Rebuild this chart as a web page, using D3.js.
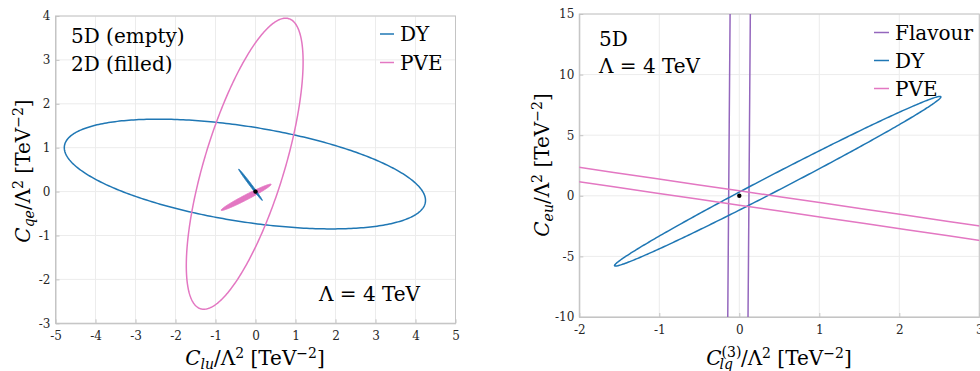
<!DOCTYPE html>
<html lang="en">
<head>
<meta charset="UTF-8">
<title>Ellipse constraints</title>
<script src="https://d3js.org/d3.v7.min.js"></script>
<style>
    body { margin: 0; background: #fff; }
    svg { display: block; }
    svg text { font-family: "DejaVu Serif", "Liberation Serif", serif; }
    .tick-label { font-size: 12px; fill: #262626; }
    .big { font-size: 20px; fill: #000; }
</style>
</head>
<body>
<div id="chart"></div>
<script>
// ---- data ----
// ellipses: centre, half extents along x and y, correlation
const leftXTicks = [-5, -4, -3, -2, -1, 0, 1, 2, 3, 4, 5];
const leftYTicks = [-3, -2, -1, 0, 1, 2, 3, 4];
const leftDY5D = { cx: -0.265, cy: 0.4, sx: 4.515, sy: 1.25, rho: -0.48 };
const leftPVE5D = { cx: -0.27, cy: 0.635, sx: 1.46, sy: 3.315, rho: 0.70 };
const leftDY2D = { cx: -0.125, cy: 0.155, sx: 0.295, sy: 0.355, rho: -0.994 };
const leftPVE2D = { cx: -0.235, cy: -0.13, sx: 0.625, sy: 0.30, rho: 0.977 };
const leftBest = [0, 0];

const rightXTicks = [-2, -1, 0, 1, 2, 3];
const rightYTicks = [-10, -5, 0, 5, 10, 15];
const rightFlavour = { cx: -0.006, cy: 0, sx: 0.2644, sy: 200, rho: 0.8775 };
const rightDY = { cx: 0.48, cy: 1.2, sx: 2.04, sy: 7.0, rho: 0.994 };
const rightPVE = { cx: 0, cy: -0.18, sx: 30, sy: 29.01, rho: -0.99979 };
const rightBest = [0, 0];

const colors = { Flavour: "#9467bd", DY: "#1f77b4", PVE: "#e377c2" };

const W = 980, H = 371;
const svg = d3.select("#chart").append("svg").attr("width", W).attr("height", H);

function ellipsePoints(e) {
    const k = Math.sqrt(1 - e.rho * e.rho);
    return d3.range(0, 361).map(i => {
        const t = i / 360 * 2 * Math.PI;
        return [e.cx + e.sx * Math.cos(t), e.cy + e.sy * (e.rho * Math.cos(t) + k * Math.sin(t))];
    });
}

// label made of pieces: {t, i: italic, s: 'sub'|'sup'}
function mathText(g, parts, size) {
    const txt = g.append("text").attr("class", "big").style("font-size", size + "px");
    parts.forEach(p => {
        const ts = txt.append("tspan").text(p.t);
        if (p.i) ts.style("font-style", "italic");
        if (p.s) {
            ts.style("font-size", (size * 0.7) + "px")
              .attr("baseline-shift", p.s === "sup" ? size * (p.hi || 0.36) : -size * 0.22);
        }
        if (p.back) ts.attr("dx", -p.back);
    });
    return txt;
}

function panel(cfg) {
    const x = d3.scaleLinear().domain(cfg.xDomain).range(cfg.xRange);
    const y = d3.scaleLinear().domain(cfg.yDomain).range(cfg.yRange);
    const g = svg.append("g");
    const [x0, x1] = cfg.xRange, [y0, y1] = cfg.yRange;

    // grid
    g.selectAll(".gx").data(cfg.xTicks).enter().append("line")
        .attr("x1", d => x(d)).attr("x2", d => x(d)).attr("y1", y0).attr("y2", y1)
        .attr("stroke", "#ececec").attr("stroke-width", 1);
    g.selectAll(".gy").data(cfg.yTicks).enter().append("line")
        .attr("y1", d => y(d)).attr("y2", d => y(d)).attr("x1", x0).attr("x2", x1)
        .attr("stroke", "#ececec").attr("stroke-width", 1);

    // box
    g.append("rect").attr("x", x0).attr("y", y1).attr("width", x1 - x0).attr("height", y0 - y1)
        .attr("fill", "none").attr("stroke", "#c4c4c4").attr("stroke-width", 1);

    // axes with inward ticks
    const ax = g.append("g").attr("transform", `translate(0,${y0})`)
        .call(d3.axisBottom(x).tickValues(cfg.xTicks).tickFormat(d => String(d))
            .tickSizeInner(-4).tickSizeOuter(0).tickPadding(8));
    const ay = g.append("g").attr("transform", `translate(${x0},0)`)
        .call(d3.axisLeft(y).tickValues(cfg.yTicks).tickFormat(d => String(d))
            .tickSizeInner(-4).tickSizeOuter(0).tickPadding(5));
    [ax, ay].forEach(a => {
        a.attr("font-family", null).attr("font-size", null);
        a.select(".domain").attr("stroke", "#c4c4c4");
        a.selectAll(".tick line").attr("stroke", "#c4c4c4");
        a.selectAll(".tick text").attr("class", "tick-label");
    });

    // clip
    const clipId = "clip" + cfg.id;
    svg.append("clipPath").attr("id", clipId).append("rect")
        .attr("x", x0).attr("y", y1).attr("width", x1 - x0).attr("height", y0 - y1);
    const plot = g.append("g").attr("clip-path", `url(#${clipId})`);
    const line = d3.line().x(d => x(d[0])).y(d => y(d[1])).curve(d3.curveLinearClosed);

    cfg.filled.forEach(f => {
        plot.append("path").attr("d", line(ellipsePoints(f.e)))
            .attr("fill", f.c).attr("stroke", f.c).attr("stroke-width", 1);
    });
    cfg.empty.forEach(f => {
        plot.append("path").attr("d", line(ellipsePoints(f.e)))
            .attr("fill", "none").attr("stroke", f.c).attr("stroke-width", 1.5);
    });
    plot.append("circle").attr("cx", x(cfg.best[0])).attr("cy", y(cfg.best[1]))
        .attr("r", 2.2).attr("fill", "#000");
    return { g, x, y };
}

// ---- left panel ----
const L = panel({
    id: "L", xDomain: [-5, 5], xRange: [55.5, 455.5], yDomain: [-3, 4], yRange: [323.3, 16],
    xTicks: leftXTicks, yTicks: leftYTicks,
    filled: [{ e: leftPVE2D, c: colors.PVE }, { e: leftDY2D, c: colors.DY }],
    empty: [{ e: leftDY5D, c: colors.DY }, { e: leftPVE5D, c: colors.PVE }],
    best: leftBest
});

L.g.append("text").attr("class", "big").attr("x", 71).attr("y", 43).text("5D (empty)");
L.g.append("text").attr("class", "big").attr("x", 71).attr("y", 71).text("2D (filled)");
L.g.append("text").attr("class", "big").attr("x", 319).attr("y", 301).text("Λ = 4 TeV");

[["DY", colors.DY, 34], ["PVE", colors.PVE, 62.5]].forEach(([name, c, yy]) => {
    L.g.append("line").attr("x1", 380).attr("x2", 394).attr("y1", yy).attr("y2", yy)
        .attr("stroke", c).attr("stroke-width", 1.5);
    L.g.append("text").attr("class", "big").attr("x", 400).attr("y", yy + 7).text(name);
});

mathText(L.g, [{ t: "C", i: true }, { t: "lu", i: true, s: "sub" }, { t: "/Λ" }, { t: "2", s: "sup" },
    { t: " [TeV" }, { t: "−2", s: "sup" }, { t: "]" }], 20)
    .attr("x", 255).attr("y", 365).attr("text-anchor", "middle");
mathText(L.g, [{ t: "C", i: true }, { t: "qe", i: true, s: "sub" }, { t: "/Λ" }, { t: "2", s: "sup" },
    { t: " [TeV" }, { t: "−2", s: "sup" }, { t: "]" }], 20)
    .attr("text-anchor", "middle").attr("transform", "translate(30,171) rotate(-90)");

// ---- right panel ----
const R = panel({
    id: "R", xDomain: [-2, 3], xRange: [579.3, 979.3], yDomain: [-10, 15], yRange: [317, 14],
    xTicks: rightXTicks, yTicks: rightYTicks,
    filled: [],
    empty: [{ e: rightFlavour, c: colors.Flavour }, { e: rightDY, c: colors.DY }, { e: rightPVE, c: colors.PVE }],
    best: rightBest
});

R.g.append("text").attr("class", "big").attr("x", 599).attr("y", 46).text("5D");
R.g.append("text").attr("class", "big").attr("x", 599).attr("y", 73).text("Λ = 4 TeV");

[["Flavour", colors.Flavour, 32.5], ["DY", colors.DY, 60.5], ["PVE", colors.PVE, 88.5]].forEach(([name, c, yy]) => {
    R.g.append("line").attr("x1", 874).attr("x2", 889).attr("y1", yy).attr("y2", yy)
        .attr("stroke", c).attr("stroke-width", 1.5);
    R.g.append("text").attr("class", "big").attr("x", 895).attr("y", yy + 7).text(name);
});

mathText(R.g, [{ t: "C", i: true }, { t: "(3)", s: "sup", hi: 0.42 }, { t: "lq", i: true, s: "sub", back: 22 },
    { t: "/Λ", back: -8 }, { t: "2", s: "sup" }, { t: " [TeV" }, { t: "−2", s: "sup" }, { t: "]" }], 20)
    .attr("x", 779).attr("y", 365).attr("text-anchor", "middle");
mathText(R.g, [{ t: "C", i: true }, { t: "eu", i: true, s: "sub" }, { t: "/Λ" }, { t: "2", s: "sup" },
    { t: " [TeV" }, { t: "−2", s: "sup" }, { t: "]" }], 20)
    .attr("text-anchor", "middle").attr("transform", "translate(549,165) rotate(-90)");
</script>
</body>
</html>
